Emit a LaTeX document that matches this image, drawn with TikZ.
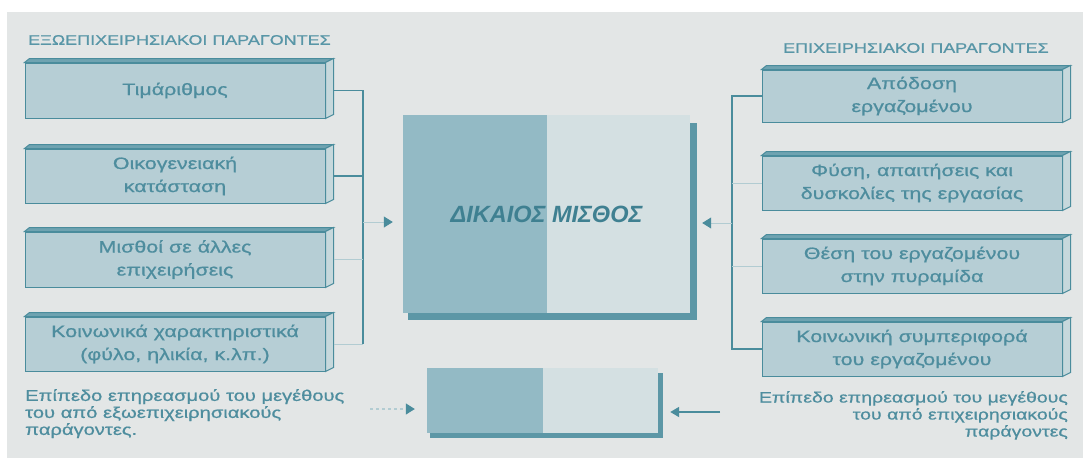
\documentclass[tikz,border=0pt]{standalone}
\usepackage{fontspec}
\setmainfont{Liberation Sans}
\newfontfamily\wide{Liberation Sans}[FakeStretch=1.3,FakeBold=0.8]
\usetikzlibrary{arrows.meta}
\definecolor{bgc}{HTML}{E3E6E6}
\definecolor{tline}{HTML}{4A8C9C}
\definecolor{faint}{HTML}{B2CCD2}
\definecolor{boxfill}{HTML}{B6CED5}
\definecolor{topfill}{HTML}{6FA3B1}
\definecolor{sidefill}{HTML}{C6D8DC}
\definecolor{boxtext}{HTML}{4E8D9E}
\definecolor{hdrtext}{HTML}{5896A7}
\definecolor{cdark}{HTML}{93BAC5}
\definecolor{clight}{HTML}{D4E0E2}
\definecolor{ctext}{HTML}{3F8091}
\definecolor{shadowc}{HTML}{5C97A6}
\tikzset{
  slab/.style={draw=tline, fill=boxfill, line width=1pt, minimum width=300pt,
    text=boxtext, font=\wide\fontsize{16.5}{23}\selectfont, align=center, inner sep=0pt},
  hdr/.style={text=hdrtext, font=\wide\fontsize{13.8}{16}\selectfont, inner sep=0pt},
  note/.style={text=boxtext, font=\wide\fontsize{15.5}{17}\selectfont, inner sep=0pt},
  conn/.style={draw=tline, line width=1.3pt},
  fconn/.style={draw=faint, line width=1pt},
  arr/.style={draw=faint, line width=1pt, -{Triangle[length=9pt,width=11pt,color=tline]}},
  sarr/.style={draw=tline, line width=1.8pt, -{Triangle[length=9pt,width=10pt,color=tline]}},
  dsarr/.style={draw=faint, line width=1.2pt, dashed, -{Triangle[length=9pt,width=11pt,color=tline]}}
}
\begin{document}
\begin{tikzpicture}[x=1pt,y=-1pt]
\useasboundingbox (0,0) rectangle (1083,458);
\fill[white] (0,0) rectangle (1083,458);
\fill[bgc] (7,12) rectangle (1083,458);

% headers
\node[hdr, anchor=west] (HL) at (28,40) {ΕΞΩΕΠΙΧΕΙΡΗΣΙΑΚΟΙ ΠΑΡΑΓΟΝΤΕΣ};
\node[hdr, anchor=west] (HR) at (783,48) {ΕΠΙΧΕΙΡΗΣΙΑΚΟΙ ΠΑΡΑΓΟΝΤΕΣ};

% left boxes
\node[slab, minimum height=55pt] (L1) at (175,90.5) {Τιμάριθμος};
\node[slab, minimum height=54pt] (L2) at (175,176) {Οικογενειακή\\κατάσταση};
\node[slab, minimum height=55pt] (L3) at (175,259.5) {Μισθοί σε άλλες\\επιχειρήσεις};
\node[slab, minimum height=54pt] (L4) at (175,344) {Κοινωνικά χαρακτηριστικά\\(φύλο, ηλικία, κ.λπ.)};

% right boxes
\node[slab, minimum height=52pt] (R1) at (912,96) {Απόδοση\\εργαζομένου};
\node[slab, minimum height=54pt] (R2) at (912,183) {Φύση, απαιτήσεις και\\δυσκολίες της εργασίας};
\node[slab, minimum height=54pt] (R3) at (912,266) {Θέση του εργαζομένου\\στην πυραμίδα};
\node[slab, minimum height=54pt] (R4) at (912,349) {Κοινωνική συμπεριφορά\\του εργαζομένου};

% 3D faces
\foreach \n in {L1,L2,L3,L4,R1,R2,R3,R4}{
  \filldraw[fill=topfill, draw=tline, line width=1pt] (\n.north west) -- ++(5,-4)
    -- ([shift={(8,-4)}]\n.north east) -- (\n.north east) -- cycle;
  \filldraw[fill=sidefill, draw=tline, line width=1pt] (\n.north east)
    -- ([shift={(8,-4)}]\n.north east) -- ([shift={(8,-4)}]\n.south east)
    -- (\n.south east) -- cycle;
}

% central box
\node[draw=none, fill=clight, minimum width=287pt, minimum height=198pt, inner sep=0pt,
  text=ctext, font=\bfseries\itshape\fontsize{23.5}{26}\selectfont,
  path picture={\fill[cdark] (path picture bounding box.north west) rectangle
    ([xshift=0.5pt]path picture bounding box.south);}] (C) at (546.5,214) {ΔΙΚΑΙΟΣ ΜΙΣΘΟΣ};
\fill[shadowc] ([yshift=-8pt]C.north east) rectangle ([shift={(7,7)}]C.south east);
\fill[shadowc] ([xshift=5pt]C.south west) rectangle ([shift={(7,7)}]C.south east);

% bottom box
\node[draw=none, fill=clight, minimum width=231pt, minimum height=65pt, inner sep=0pt,
  path picture={\fill[cdark] (path picture bounding box.north west) rectangle
    (path picture bounding box.south);}] (B) at (542.5,400.5) {};
\fill[shadowc] ([yshift=-5pt]B.north east) rectangle ([shift={(5,5)}]B.south east);
\fill[shadowc] ([xshift=3pt]B.south west) rectangle ([shift={(5,5)}]B.south east);

% bus lines
\coordinate (LV) at (363,0);
\coordinate (RV) at (732,0);
\draw[conn] ([xshift=8pt]L1.east) -- (L1.east -| LV) -- (L4.east -| LV);
\draw[conn] ([xshift=8pt]L2.east) -- (L2.east -| LV);
\draw[fconn] ([xshift=8pt]L3.east) -- (L3.east -| LV);
\draw[fconn] ([xshift=8pt]L4.east) -- (L4.east -| LV);

\draw[conn] (R1.west) -- (R1.west -| RV) -- (R4.west -| RV) -- (R4.west);
\draw[fconn] (R2.west) -- (R2.west -| RV);
\draw[fconn] (R3.west) -- (R3.west -| RV);

% arrows into centre
\draw[arr, shorten >=10pt] ([yshift=-8pt]C.west -| LV) -- ([yshift=-8pt]C.west);
\draw[arr, shorten >=12pt] ([yshift=-9pt]C.east -| RV) -- ([yshift=-9pt]C.east);

% notes
\node[note, anchor=north west, align=left] (NL) at (25,389)
  {Επίπεδο επηρεασμού του μεγέθους\\του από εξωεπιχειρησιακούς\\παράγοντες.};
\node[note, anchor=north east, align=right, font=\wide\fontsize{15}{17}\selectfont] (NR) at (1068,391)
  {Επίπεδο επηρεασμού του μεγέθους\\του από επιχειρησιακούς\\παράγοντες};

% bottom arrows
\coordinate (BLs) at (370,409);
\coordinate (BRs) at (720,412);
\draw[dsarr, shorten >=12pt] (BLs) -- (BLs -| B.west);
\draw[sarr, shorten >=12pt] (BRs) -- (BRs -| B.east);
\end{tikzpicture}
\end{document}
